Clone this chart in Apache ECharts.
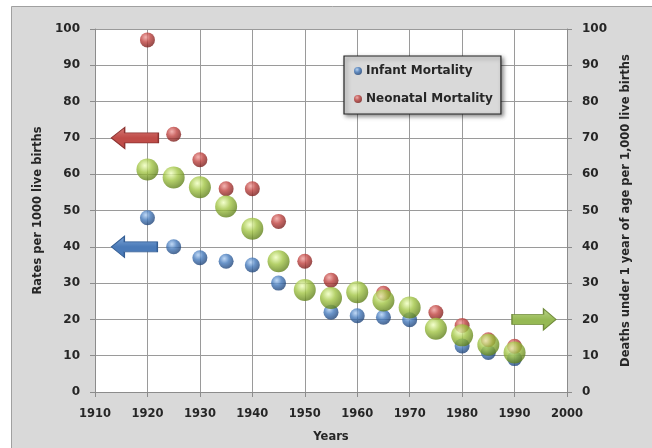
<!DOCTYPE html>
<html><head><meta charset="utf-8">
<script src="https://cdn.jsdelivr.net/npm/echarts@6/dist/echarts.min.js"></script>
<style>html,body{margin:0;padding:0;background:#fff}#c{width:652px;height:448px}</style>
</head><body><div id="c"></div>
<script>
var infantYears = [1920,1925,1930,1935,1940,1945,1955,1960,1965,1970,1980,1985,1990];
var infantValues = [48,40,37,36,35,30,22,21,20.6,19.9,12.7,10.9,9.2];
var neonatalYears = [1920,1925,1930,1935,1940,1945,1950,1955,1965,1975,1980,1985,1990];
var neonatalValues = [97,71,64,56,56,47,36,30.8,27.2,21.9,18.3,14.4,12.6];
var deathYears = [1920,1925,1930,1935,1940,1945,1950,1955,1960,1965,1970,1975,1980,1985,1990];
var deathValues = [61.3,59.1,56.4,51.1,45,36,28.1,25.9,27.5,25.2,23.3,17.4,15.6,13,10.9];
var xTicks = [1910,1920,1930,1940,1950,1960,1970,1980,1990,2000];
var yTicks = [0,10,20,30,40,50,60,70,80,90,100];

function zip(a,b){return a.map(function(v,i){return [v,b[i]];});}
function sphere(light, base, dark){
  return {type:'radial', x:0.38, y:0.32, r:0.72, colorStops:[
    {offset:0,color:light},{offset:0.45,color:base},{offset:1,color:dark}]};
}
var leftArrow = 'path://M0,10.5 L13,0 L13,5.5 L46,5.5 L46,15.5 L13,15.5 L13,21 Z';
var rightArrow = 'path://M46,10.5 L33,0 L33,5.5 L0,5.5 L0,15.5 L33,15.5 L33,21 Z';
function arrowFill(light, base){
  return {type:'linear',x:0,y:0,x2:0,y2:1,colorStops:[{offset:0,color:light},{offset:0.5,color:base},{offset:1,color:base}]};
}
var FONT = 'DejaVu Sans';
var yLbl = {fontFamily:FONT, fontWeight:'bold', fontSize:12, color:'#262626'};
var xLbl = {fontFamily:FONT, fontWeight:'bold', fontSize:11.5, color:'#262626'};
var nameFont = {fontFamily:FONT, fontWeight:'bold', fontSize:11.5, color:'#262626'};
var chart = echarts.init(document.getElementById('c'), null, {renderer:'canvas'});
chart.setOption({
  animation:false,
  backgroundColor:'#ffffff',
  graphic:[{type:'rect', z:-10, shape:{x:11.5,y:6.5,width:650,height:450}, style:{fill:'#d9d9d9', stroke:'#a0a0a0', lineWidth:1}}],
  grid:{left:95, right:85, top:29, bottom:54, show:true, backgroundColor:'#ffffff', borderWidth:0},
  legend:{
    data:['Infant Mortality','Neonatal Mortality'], orient:'vertical', left:344, top:56,
    icon:'circle', itemWidth:8, itemHeight:8, itemGap:16,
    backgroundColor:'#d9d9d9', borderColor:'#262626', borderWidth:1.2,
    padding:[9,8,9,10],
    shadowBlur:4, shadowColor:'rgba(0,0,0,0.45)', shadowOffsetX:2, shadowOffsetY:2,
    textStyle:{fontFamily:FONT, fontWeight:'bold', fontSize:12, color:'#262626', padding:[0,0,0,-1]}
  },
  xAxis:{type:'value', min:1910, max:2000, interval:10,
    name:'Years', nameLocation:'middle', nameGap:39, nameTextStyle:nameFont,
    axisLine:{lineStyle:{color:'#8c8c8c'}}, axisTick:{show:true, length:5, lineStyle:{color:'#8c8c8c'}},
    axisLabel:Object.assign({margin:16, formatter:function(v){return xTicks.indexOf(v)>=0?String(v):'';}}, xLbl),
    splitLine:{show:true, lineStyle:{color:'#9a9a9a', width:1}}
  },
  yAxis:[
    {type:'value', min:0, max:100, interval:10, position:'left',
     name:'Rates per 1000 live births', nameLocation:'middle', nameGap:47, nameTextStyle:nameFont,
     axisLine:{show:true, lineStyle:{color:'#8c8c8c'}}, axisTick:{show:true, length:5, lineStyle:{color:'#8c8c8c'}},
     axisLabel:Object.assign({margin:15, formatter:function(v){return yTicks.indexOf(v)>=0?String(v):'';}}, yLbl),
     splitLine:{show:true, lineStyle:{color:'#9a9a9a', width:1}}},
    {type:'value', min:0, max:100, interval:10, position:'right',
     name:'Deaths under 1 year of age per 1,000 live births', nameLocation:'middle', nameGap:53, nameRotate:90,
     nameTextStyle:nameFont,
     axisLine:{show:true, lineStyle:{color:'#8c8c8c'}}, axisTick:{show:true, length:5, lineStyle:{color:'#8c8c8c'}},
     axisLabel:Object.assign({margin:15, formatter:function(v){return yTicks.indexOf(v)>=0?String(v):'';}}, yLbl),
     splitLine:{show:false}}
  ],
  series:[
    {name:'Infant Mortality', type:'scatter', yAxisIndex:0, data:zip(infantYears, infantValues), symbolSize:15,
     itemStyle:{color:sphere('#b0cff3','#4479bb','#1c3f72')},
     markPoint:{symbol:leftArrow, symbolSize:[46,21], symbolKeepAspect:false, label:{show:false},
       itemStyle:{color:arrowFill('#7ea6d8','#4a7ab8'), borderColor:'#345e94', borderWidth:1},
       data:[{coord:[1917.5,40]}]}},
    {name:'Neonatal Mortality', type:'scatter', yAxisIndex:0, data:zip(neonatalYears, neonatalValues), symbolSize:15,
     itemStyle:{color:sphere('#f0a19e','#bf4340','#741a18')},
     markPoint:{symbol:leftArrow, symbolSize:[47,21], symbolKeepAspect:false, label:{show:false},
       itemStyle:{color:arrowFill('#d77a77','#bf4c48'), borderColor:'#8c3331', borderWidth:1},
       data:[{coord:[1917.6,70]}]}},
    {name:'Deaths under 1 year', type:'scatter', yAxisIndex:1, data:zip(deathYears, deathValues), symbolSize:22,
     itemStyle:{color:sphere('#f0ffc0','#a2c545','#5b7b18')},
     markPoint:{symbol:rightArrow, symbolSize:[44,21], symbolKeepAspect:false, label:{show:false},
       itemStyle:{color:arrowFill('#bcd68a','#96b954'), borderColor:'#718c3c', borderWidth:1},
       data:[{coord:[1993.7,20]}]}}
  ]
});
</script></body></html>
